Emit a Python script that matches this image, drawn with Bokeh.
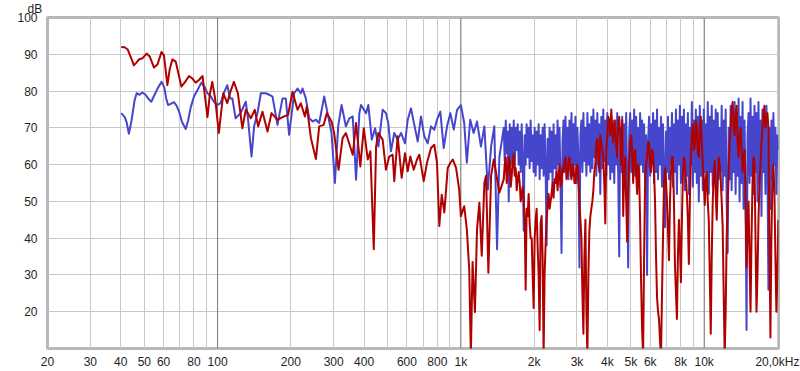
from bokeh.plotting import figure
from bokeh.models import FixedTicker, Span, Range1d
from bokeh.embed import file_html
from bokeh.resources import INLINE

# ---------------- data ----------------
red_lf_freq = [40.2, 41.5, 42.7, 44.1, 45.3, 46.5, 47.5, 49.1, 51.1, 52.6,
               54.8, 56.6, 58.8, 60.2, 62.2, 63.6, 65.2, 67.3, 69.2, 71.0,
               73.6, 76.3, 78.8, 81.3, 83.9, 86.7, 88.6, 90.9, 92.9, 95.1,
               97.7, 101.2, 105.6, 109.6, 113.1, 116.7, 121.2, 126.4, 130.6, 137.0,
               142.2, 146.8, 153.0, 160.4, 166.6, 176.3, 187.7, 194.9, 203.2, 213.1,
               219.9, 228.4, 232.7, 241.9, 253.6, 261.6, 272.8, 281.3, 294.1, 301.4,
               314.3, 326.4, 336.8, 359.4, 370.8, 386.2, 398.9, 414.3, 424.6, 438.5,
               448.2, 458.1, 476.9, 492.0, 507.6, 524.3, 532.3, 549.7, 571.1, 589.3,
               604.6, 619.6, 639.9, 660.3, 674.6, 703.3, 725.7, 753.7, 777.6, 797.7,
               815.3, 834.1, 854.9, 882.9, 905.1, 925.9, 955.4, 984, 1000, 1032,
               1058, 1082, 1099, 1117, 1142, 1165, 1191, 1218, 1249, 1269,
               1297, 1331, 1365, 1395, 1439]
red_lf_db = [92.0, 91.9, 91.3, 89.0, 87.0, 87.8, 88.6, 88.9, 90.2, 89.4,
             86.4, 87.2, 90.6, 89.7, 81.6, 86.0, 88.6, 88.0, 84.5, 81.2,
             82.5, 84.1, 83.4, 82.3, 83.0, 84.1, 79.0, 72.9, 79.0, 82.5,
             78.0, 68.6, 79.4, 76.7, 80.0, 82.5, 79.4, 69.9, 74.9, 72.6,
             74.9, 70.4, 74.4, 69.0, 74.0, 72.2, 73.1, 73.5, 79.8, 74.9,
             76.7, 73.1, 75.8, 67.2, 61.5, 70.4, 70.8, 74.0, 71.7, 68.6,
             58.6, 67.2, 68.6, 62.7, 71.3, 59.5, 69.9, 61.4, 63.6, 37.0,
             64.9, 68.6, 66.8, 58.6, 62.2, 62.7, 55.5, 67.7, 56.4, 63.1,
             58.2, 62.2, 58.6, 61.4, 62.7, 55.5, 60.5, 64.5, 65.4, 60.5,
             43.3, 51.8, 47.0, 59.1, 60.5, 61.4, 59.1, 53.2, 46.0, 48.7,
             42.4, 31.6, 8.0, 33.5, 19.9, 42.4, 49.6, 35.2, 55.0, 57.0,
             30.6, 57.0, 61.4, 57.8, 52.4]

blue_lf_freq = [40.2, 41.5, 42.3, 43.2, 44.3, 45.6, 46.5, 47.8, 49.1, 50.6,
                51.8, 53.4, 55.1, 57.0, 58.9, 60.4, 61.5, 62.6, 64.2, 66.2,
                67.9, 69.4, 71.5, 74.0, 75.7, 77.5, 80.0, 83.0, 85.8, 88.6,
                90.9, 93.9, 96.6, 99.7, 102.9, 106.2, 109.6, 112.6, 115.0, 118.6,
                124.4, 130.6, 133.5, 137.9, 141.3, 145.9, 150.6, 157.9, 162.9, 168.2,
                176.3, 184.9, 190.7, 196.8, 206.4, 213.1, 219.9, 223.5, 230.5, 238.0,
                245.8, 253.6, 261.6, 274.3, 283.1, 294.1, 303.5, 313.1, 323.3, 336.8,
                348.0, 359.4, 370.8, 382.6, 388.8, 407.6, 416.6, 430.3, 444.0, 458.1,
                476.9, 492.0, 502.9, 515.9, 532.3, 549.7, 567.4, 589.3, 604.6, 623.8,
                643.6, 664.7, 685.6, 707.3, 730.5, 753.7, 777.6, 797.7, 823.0, 850.1,
                877.2, 905.1, 934.8, 964.4, 1000, 1032, 1058, 1092, 1128, 1165,
                1209, 1249, 1290, 1331, 1372, 1408, 1439]
blue_lf_db = [74.0, 73.0, 71.5, 68.4, 72.0, 77.5, 79.4, 79.0, 79.6, 79.0,
              78.0, 77.1, 79.0, 81.0, 82.5, 81.0, 78.0, 76.2, 76.5, 77.0,
              76.0, 74.5, 71.5, 69.7, 72.0, 75.5, 78.5, 80.5, 82.3, 81.0,
              79.4, 78.5, 77.1, 76.2, 76.7, 79.5, 81.6, 78.0, 78.0, 72.6,
              74.0, 77.1, 72.2, 62.2, 70.4, 74.0, 79.4, 79.4, 79.0, 78.5,
              70.8, 78.0, 78.0, 68.1, 79.4, 80.7, 79.4, 80.7, 78.0, 72.6,
              71.7, 72.2, 71.3, 78.5, 74.0, 68.6, 55.0, 70.4, 76.2, 70.4,
              72.6, 73.1, 55.9, 74.0, 76.2, 74.0, 76.2, 66.8, 69.9, 64.9,
              74.9, 74.0, 71.3, 63.6, 68.6, 66.8, 68.6, 65.8, 72.2, 75.3,
              70.8, 66.3, 73.1, 67.7, 65.8, 70.4, 69.5, 72.2, 74.4, 64.5,
              70.4, 74.0, 69.5, 74.9, 76.2, 71.3, 60.5, 72.2, 68.6, 71.7,
              64.9, 70.4, 53.2, 64.9, 70.4, 37.0, 62.0]

# high-frequency bins (1.5 kHz .. 20 kHz), main bins and in-between bins
hf_freq = [1500, 1529, 1558, 1588, 1618, 1649, 1680, 1712, 1745, 1778,
           1812, 1846, 1881, 1917, 1954, 1991, 2029, 2067, 2107, 2147,
           2188, 2229, 2272, 2315, 2359, 2404, 2449, 2496, 2543, 2592,
           2641, 2691, 2742, 2794, 2848, 2902, 2957, 3013, 3070, 3129,
           3188, 3249, 3311, 3373, 3437, 3503, 3569, 3637, 3706, 3777,
           3848, 3922, 3996, 4072, 4150, 4229, 4309, 4391, 4474, 4559,
           4646, 4734, 4824, 4916, 5010, 5105, 5202, 5301, 5401, 5504,
           5609, 5715, 5824, 5935, 6048, 6163, 6280, 6399, 6521, 6645,
           6771, 6900, 7031, 7165, 7301, 7440, 7581, 7725, 7872, 8022,
           8174, 8330, 8488, 8649, 8814, 8981, 9152, 9326, 9503, 9684,
           9868, 10055, 10246, 10441, 10639, 10841, 11047, 11257, 11471, 11689,
           11911, 12137, 12368, 12603, 12842, 13086, 13335, 13588, 13846, 14109,
           14377, 14651, 14929, 15213, 15502, 15796, 16096, 16402, 16714, 17031,
           17355, 17685, 18021, 18363, 18712, 19067, 19430, 19799, 20175]
hf_mid_freq = [1514, 1543, 1573, 1603, 1633, 1664, 1696, 1728, 1761, 1795,
               1829, 1863, 1899, 1935, 1972, 2010, 2048, 2087, 2127, 2167,
               2208, 2250, 2293, 2337, 2381, 2426, 2472, 2519, 2567, 2616,
               2666, 2716, 2768, 2821, 2875, 2929, 2985, 3041, 3099, 3158,
               3218, 3280, 3342, 3405, 3470, 3536, 3603, 3671, 3741, 3812,
               3885, 3959, 4034, 4111, 4189, 4269, 4350, 4432, 4516, 4602,
               4690, 4779, 4870, 4963, 5057, 5153, 5251, 5351, 5452, 5556,
               5662, 5769, 5879, 5991, 6105, 6221, 6339, 6460, 6583, 6708,
               6835, 6965, 7098, 7233, 7370, 7510, 7653, 7798, 7947, 8098,
               8252, 8409, 8568, 8731, 8897, 9066, 9239, 9414, 9593, 9776,
               9961, 10150, 10343, 10540, 10740, 10944, 11152, 11364, 11580, 11800,
               12024, 12252, 12485, 12722, 12964, 13210, 13461, 13717, 13977, 14243,
               14514, 14790, 15071, 15357, 15649, 15946, 16249, 16558, 16872, 17192,
               17519, 17852, 18191, 18537, 18889, 19248, 19614, 19987]

# dB values for all high-frequency bins, in ascending frequency order
blue_hf_db = [70, 61, 72, 63, 69, 50, 71, 60, 70, 62,
              72, 59, 70, 64, 71, 60, 69, 58, 71, 61,
              42, 68, 60, 71, 62, 70, 59, 72, 61, 68,
              58, 70, 57, 69, 60, 71, 56, 68, 59, 70,
              57, 71, 60, 38, 67, 56, 70, 58, 69, 55,
              71, 59, 68, 57, 72, 60, 70, 55, 36, 66,
              72, 58, 73, 60, 70, 56, 72, 59, 74, 57,
              71, 60, 73, 55, 70, 62, 32, 68, 72, 58,
              74, 61, 70, 57, 74, 60, 71, 58, 73, 59,
              75, 62, 72, 57, 74, 60, 71, 52, 73, 59,
              75, 61, 72, 57, 74, 60, 71, 56, 73, 58,
              70, 55, 72, 60, 74, 57, 35, 70, 58, 73,
              55, 71, 60, 74, 56, 32, 68, 74, 58, 72,
              60, 75, 57, 73, 59, 70, 56, 74, 60, 72,
              58, 71, 55, 68, 30, 66, 73, 57, 71, 60,
              74, 55, 72, 58, 75, 56, 70, 60, 73, 54,
              71, 58, 43, 69, 58, 73, 56, 70, 60, 74,
              54, 71, 58, 75, 52, 72, 60, 76, 55, 73,
              58, 75, 53, 71, 57, 74, 52, 70, 60, 77,
              54, 72, 58, 75, 55, 73, 50, 76, 57, 72,
              53, 75, 58, 71, 55, 77, 52, 73, 58, 76,
              54, 72, 57, 75, 50, 74, 56, 70, 58, 76,
              53, 72, 57, 75, 50, 36, 70, 56, 76, 53,
              72, 58, 77, 52, 74, 57, 78, 50, 73, 55,
              77, 48, 72, 50, 15, 68, 74, 55, 78, 57,
              73, 52, 76, 58, 74, 50, 77, 55, 72, 46,
              75, 58, 73, 52, 76, 60, 26, 70, 48, 72,
              56, 74, 60, 70, 52, 68, 64]
red_hf_db = [56, 60, 62, 55, 58, 62, 61, 54, 57, 61,
             63, 57, 59, 53, 56, 58, 55, 50, 52, 54,
             50, 45, 26, 48, 46, 52, 44, 40, 40, 30,
             21, 40, 45, 48, 38, 30, 15, 44, 46, 35,
             8, 30, 38, 45, 49, 52, 48, 50, 52, 55,
             51, 56, 55, 58, 53, 57, 60, 54, 55, 59,
             58, 61, 62, 56, 57, 61, 62, 58, 56, 60,
             60, 55, 55, 59, 60, 56, 50, 45, 40, 25,
             14, 35, 45, 20, 8, 30, 42, 46, 48, 50,
             53, 58, 60, 66, 67, 62, 58, 68, 66, 64,
             62, 55, 44, 64, 68, 73, 72, 68, 75, 70,
             66, 72, 70, 65, 62, 71, 73, 68, 60, 72,
             46, 58, 62, 50, 39, 52, 60, 66, 68, 64,
             55, 62, 64, 58, 52, 60, 58, 45, 28, 15,
             8, 35, 55, 60, 62, 66, 66, 60, 58, 64,
             63, 58, 50, 35, 24, 20, 18, 12, 8, 25,
             40, 55, 59, 56, 50, 42, 34, 50, 58, 62,
             62, 50, 33, 25, 18, 35, 45, 38, 28, 45,
             57, 62, 60, 56, 52, 45, 33, 50, 62, 68,
             71, 64, 65, 72, 70, 63, 62, 70, 73, 66,
             60, 55, 49, 56, 58, 50, 45, 30, 14, 35,
             50, 58, 61, 52, 45, 55, 62, 60, 56, 50,
             43, 25, 8, 20, 40, 50, 58, 66, 70, 75,
             77, 70, 68, 74, 76, 66, 62, 68, 70, 64,
             58, 62, 64, 50, 32, 42, 50, 35, 20, 40,
             55, 62, 60, 40, 20, 30, 45, 55, 60, 66,
             70, 74, 76, 70, 72, 74, 70, 40, 13, 40,
             55, 60, 53, 35, 20, 30, 45]

x_ticks = [20, 30, 40, 50, 60, 70, 80, 90, 100, 200, 300, 400, 500, 600, 700,
           800, 900, 1000, 2000, 3000, 4000, 5000, 6000, 7000, 8000, 9000, 10000,
           20000]
x_tick_labels = ["20", "30", "40", "50", "60", "", "80", "", "100", "200", "300",
                 "400", "", "600", "", "800", "", "1k", "2k", "3k", "4k", "5k",
                 "6k", "", "8k", "", "10k", "20,0kHz"]
y_ticks = [20, 30, 40, 50, 60, 70, 80, 90, 100]
y_unit = "dB"
dark_lines = [100, 1000, 10000]

# ---------------- figure ----------------
FONT = "Liberation Sans"
p = figure(width=800, height=371, x_axis_type="log",
           x_range=Range1d(20, 20200), y_range=Range1d(10, 100),
           output_backend="svg", toolbar_location=None,
           min_border_left=47, min_border_right=22,
           min_border_top=17, min_border_bottom=21,
           background_fill_color="white", border_fill_color="white")

p.title.text = y_unit
p.title.align = "left"
p.title.offset = -20
p.title.standoff = 0
p.title.vertical_align = "top"
p.title.text_line_height = 1.0
p.title.text_font = FONT
p.title.text_font_size = "12px"
p.title.text_font_style = "normal"
p.title.text_color = "#1e1e1e"

p.outline_line_color = "#b8b8b8"
p.outline_line_width = 3

for ax in (p.xaxis[0], p.yaxis[0]):
    ax.axis_line_color = None
    ax.major_tick_line_color = None
    ax.minor_tick_line_color = None
    ax.major_label_text_font = FONT
    ax.major_label_text_font_size = "12px"
    ax.major_label_text_color = "#1e1e1e"

p.xaxis.ticker = FixedTicker(ticks=x_ticks)
p.xaxis.major_label_overrides = {t: s for t, s in zip(x_ticks, x_tick_labels)}
p.xaxis.major_label_standoff = 0
p.yaxis.ticker = FixedTicker(ticks=y_ticks)
p.yaxis.major_label_standoff = 4

p.xgrid.ticker = FixedTicker(ticks=x_ticks)
p.ygrid.ticker = FixedTicker(ticks=y_ticks)
p.xgrid.grid_line_color = "#c8c8c8"
p.ygrid.grid_line_color = "#c8c8c8"

for f in dark_lines:
    p.add_layout(Span(location=f, dimension="height", line_color="#7a7a7a",
                      line_width=1, level="underlay"))

hf_all_freq = sorted(hf_freq + hf_mid_freq)

p.line(blue_lf_freq + hf_all_freq, blue_lf_db + blue_hf_db, line_color="#4646cc",
       line_width=2, line_join="round")
p.line(red_lf_freq + hf_all_freq, red_lf_db + red_hf_db, line_color="#b00000",
       line_width=2, line_join="round")

open("out.html", "w").write(file_html(p, INLINE))
